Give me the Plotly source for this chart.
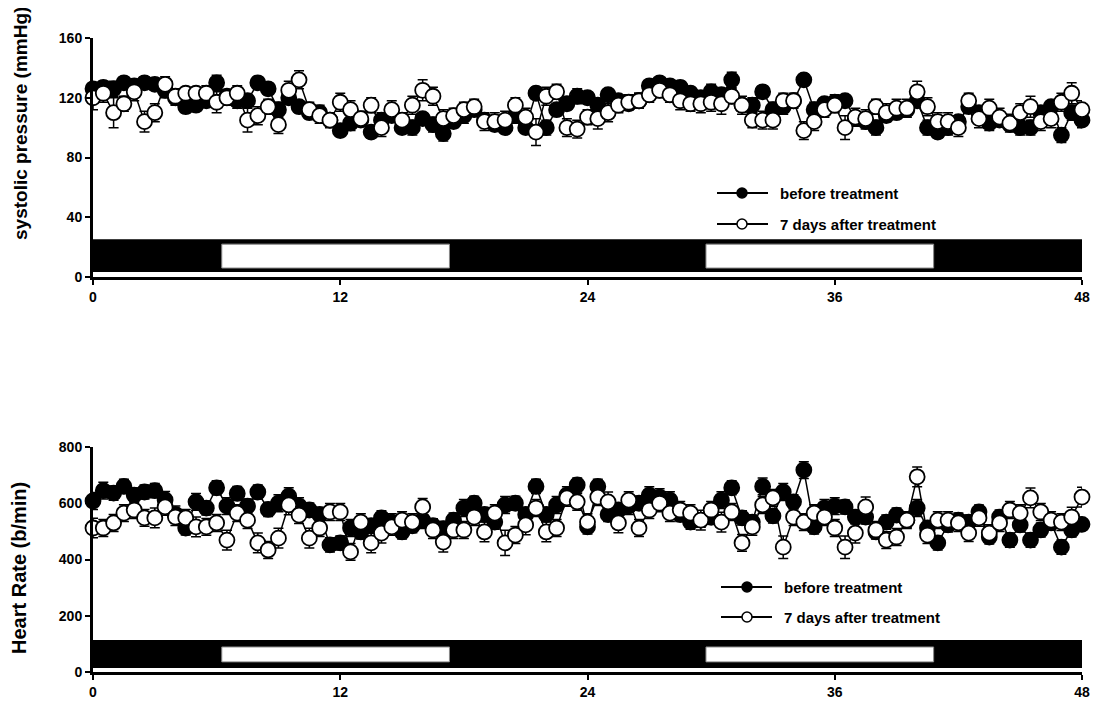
import plotly.graph_objects as go
from plotly.subplots import make_subplots

hours = [i * 0.5 for i in range(97)]

sbp_before = [126,127,126,130,128,130,129,125,120,114,115,118,130,121,118,118,130,126,112,120,
              114,110,110,105,98,103,105,97,105,108,100,100,106,102,96,104,108,112,105,102,
              100,108,100,123,100,112,116,121,120,115,122,118,116,118,128,130,128,127,123,120,
              124,122,132,115,115,124,112,114,118,132,112,116,117,118,106,104,100,108,110,112,
              118,100,97,100,104,114,110,103,105,102,100,100,110,114,95,110,105]
sbp_before_err = [4,4,5,4,4,4,4,5,5,4,4,4,5,4,5,4,4,4,5,4,
                  4,4,5,4,4,5,4,4,5,4,4,5,4,5,5,4,5,4,4,4,
                  4,5,4,4,5,4,4,5,4,4,4,4,4,5,3,3,3,4,4,4,
                  5,4,5,4,5,4,5,5,4,4,5,4,5,4,4,5,5,4,4,4,
                  4,5,4,5,4,4,4,5,4,4,5,5,4,4,5,5,5]
sbp_after = [120,123,110,116,124,104,110,129,121,123,123,123,117,120,123,105,108,114,102,125,
             132,112,108,105,117,112,106,115,100,112,105,115,125,121,106,108,112,114,104,104,
             105,115,107,97,121,124,100,99,107,106,110,115,117,118,122,125,122,118,116,116,
             117,116,121,115,105,105,105,118,118,98,104,112,115,100,107,106,114,110,113,113,
             124,114,104,104,100,118,106,113,107,103,110,114,104,106,117,123,112]
sbp_after_err = [8,6,10,5,6,7,6,5,5,4,4,5,7,5,5,8,6,5,6,6,
                 6,5,5,5,6,6,5,5,6,6,5,6,7,6,6,5,5,5,6,6,
                 6,5,6,9,6,5,6,6,5,7,6,5,5,5,5,5,5,6,5,6,
                 6,7,5,6,5,6,6,5,5,6,6,5,5,8,6,6,5,6,6,6,
                 7,6,6,6,6,5,6,6,6,6,6,7,6,6,6,7,6]

hr_before = [608,645,636,660,629,640,645,612,560,512,605,583,655,590,635,590,640,578,600,625,
             590,576,560,452,459,512,498,520,548,533,498,520,540,520,510,540,583,600,560,533,
             594,600,560,660,560,594,629,665,516,660,560,576,590,600,629,622,611,560,533,540,
             550,611,655,548,533,660,555,640,605,718,516,583,590,587,551,551,498,533,558,540,
             583,512,459,523,540,533,569,480,551,469,523,469,505,530,444,505,525]
hr_before_err = [30,30,25,25,25,25,25,30,30,25,30,25,25,30,25,25,25,25,30,30,
                 30,25,25,25,25,30,25,25,25,30,25,25,30,25,25,25,30,25,25,25,
                 30,25,25,25,25,30,30,25,25,25,25,25,30,25,30,30,30,25,25,25,
                 25,30,25,25,25,30,25,30,25,30,25,30,30,25,25,25,25,25,25,25,
                 30,25,25,25,25,25,25,25,25,25,25,25,25,25,25,25,25]
hr_after = [512,512,530,565,576,548,548,587,551,548,516,516,530,469,565,540,459,434,476,594,
            558,476,512,569,569,427,533,459,494,516,540,533,587,505,462,505,505,551,498,565,
            459,487,523,583,498,512,619,605,533,622,605,530,611,512,576,600,565,576,565,540,
            576,533,569,459,516,594,619,444,551,533,565,551,512,444,494,587,505,469,480,540,
            694,487,540,540,530,494,548,494,530,576,565,619,569,540,533,551,622]
hr_after_err = [35,30,30,30,30,30,35,30,30,30,35,30,30,35,30,30,35,30,35,35,
                30,35,30,30,30,30,30,35,35,30,30,30,30,30,35,30,30,30,35,30,
                45,30,35,30,35,30,30,30,30,30,35,35,30,30,30,30,30,30,30,35,
                30,35,30,30,30,30,30,40,30,30,30,30,30,40,35,35,30,30,30,30,
                35,30,30,30,30,30,30,30,30,30,30,35,30,30,30,35,35]

x_ticks = [0, 12, 24, 36, 48]
sbp_ticks = [0, 40, 80, 120, 160]
hr_ticks = [0, 200, 400, 600, 800]
series_names = ["before treatment", "7 days after treatment"]
y_titles = ["systolic pressure (mmHg)", "Heart Rate (b/min)"]

# the page body adds an 8px offset; margins compensate for it
OFF = 8
W, H = 1100, 708
ML, MR, MT, MB = 93 - OFF, 18 + OFF, 30 - OFF, 30 + OFF
PW, PH = W - ML - MR, H - MT - MB

def px_x(px):
    return (px - OFF - ML) / PW

def px_y(py):
    return (H - MB - (py - OFF)) / PH

fig = make_subplots(rows=2, cols=1, vertical_spacing=0.1)

def add_series(row, y, err, filled):
    fig.add_trace(go.Scatter(
        x=hours, y=y, mode="lines+markers",
        line=dict(color="black", width=1.5),
        marker=dict(symbol="circle", size=15,
                    color="black" if filled else "white",
                    line=dict(color="black", width=1.8)),
        error_y=dict(type="data", array=err, color="black", thickness=1.5, width=5),
        cliponaxis=False, showlegend=False, hoverinfo="x+y"), row=row, col=1)

add_series(1, sbp_before, sbp_before_err, True)
add_series(1, sbp_after, sbp_after_err, False)
add_series(2, hr_before, hr_before_err, True)
add_series(2, hr_after, hr_after_err, False)

# light/dark bars
bars = [
    ("x", "y", 3.3, 25.2, 6.0, 22.0),
    ("x2", "y2", 14, 114, 36, 89),
]
for xr, yr, b0, b1, w0, w1 in bars:
    fig.add_shape(type="rect", xref=xr, yref=yr, x0=0, x1=48, y0=b0, y1=b1,
                  fillcolor="black", line=dict(width=0), layer="below")
    for a, b in ((6.25, 17.3), (29.75, 40.8)):
        fig.add_shape(type="rect", xref=xr, yref=yr, x0=a, x1=b, y0=w0, y1=w1,
                      fillcolor="white", line=dict(color="#888", width=1), layer="below")

# hand-drawn legends (line + marker + text)
legend_rows = [
    (717, 768, 742, 778, 193, True, series_names[0]),
    (717, 768, 742, 778, 224, False, series_names[1]),
    (721, 772, 747, 782, 587, True, series_names[0]),
    (721, 772, 747, 782, 617, False, series_names[1]),
]
for x0, x1, xm, xt, py, filled, name in legend_rows:
    yy = px_y(py)
    fig.add_shape(type="line", xref="paper", yref="paper", x0=px_x(x0), x1=px_x(x1),
                  y0=yy, y1=yy, line=dict(color="black", width=2))
    fig.add_shape(type="circle", xref="paper", yref="paper",
                  xsizemode="pixel", ysizemode="pixel",
                  xanchor=px_x(xm), yanchor=yy, x0=-5, x1=5, y0=-5, y1=5,
                  fillcolor="black" if filled else "white",
                  line=dict(color="black", width=1.5))
    fig.add_annotation(xref="paper", yref="paper", x=px_x(xt), y=yy,
                       xanchor="left", yanchor="middle", showarrow=False,
                       text="<b>" + name + "</b>",
                       font=dict(family="Liberation Sans, Arial", size=15, color="black"))

# y-axis titles as rotated annotations
for text, pxc, pyc, size in ((y_titles[0], 21, 124, 19), (y_titles[1], 19, 568, 20)):
    fig.add_annotation(xref="paper", yref="paper", x=px_x(pxc), y=px_y(pyc),
                       xanchor="center", yanchor="middle", showarrow=False,
                       textangle=-90, text="<b>" + text + "</b>",
                       font=dict(family="Liberation Sans, Arial", size=size, color="black"))

tickfont = dict(family="Liberation Sans, Arial", size=14, color="black", weight="bold")
axis_common = dict(showgrid=False, zeroline=False, showline=True, linecolor="black",
                   linewidth=3, ticks="outside", ticklen=5, tickwidth=2, tickcolor="black",
                   tickfont=tickfont, automargin=False)

fig.update_xaxes(range=[0, 48], tickvals=x_ticks, **axis_common)
fig.update_yaxes(**axis_common)
fig.update_yaxes(range=[0, 160], tickvals=sbp_ticks, row=1, col=1)
fig.update_yaxes(range=[0, 800], tickvals=hr_ticks, row=2, col=1)

fig.update_layout(
    width=W, height=H,
    margin=dict(l=ML, r=MR, t=MT, b=MB),
    plot_bgcolor="white", paper_bgcolor="white",
    showlegend=False,
    xaxis=dict(domain=[0, 1]),
    xaxis2=dict(domain=[0, 1]),
    yaxis=dict(domain=[px_y(277), px_y(38)]),
    yaxis2=dict(domain=[px_y(672), px_y(447)]),
)

fig.write_html("out.html")
